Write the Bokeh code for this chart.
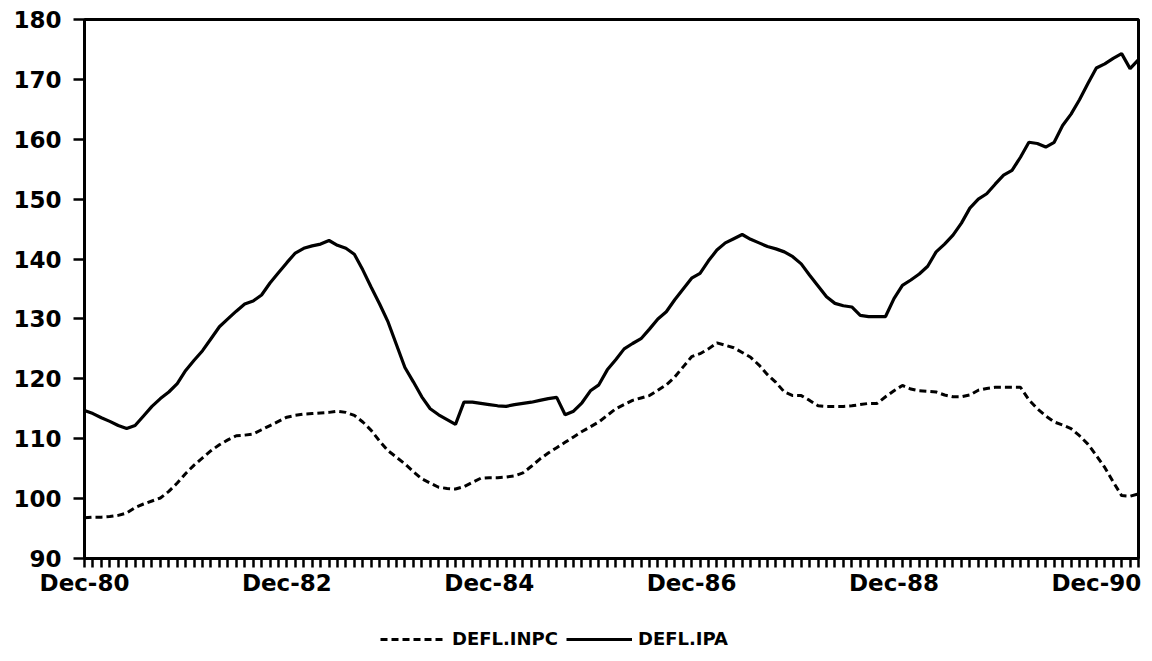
from bokeh.plotting import figure
from bokeh.layouts import column
from bokeh.models import FixedTicker, Legend, LegendItem
from bokeh.embed import file_html
from bokeh.resources import INLINE

# Monthly values, Dec-80 onwards
ipa = [
    114.7, 114.2, 113.5, 112.9, 112.2, 111.7, 112.2, 113.8, 115.4, 116.7,
    117.8, 119.2, 121.4, 123.1, 124.7, 126.7, 128.7, 130.0, 131.3, 132.5,
    133.0, 134.0, 136.0, 137.7, 139.4, 141.0, 141.8, 142.2, 142.5, 143.1,
    142.3, 141.8, 140.8, 138.2, 135.3, 132.5, 129.5, 125.7, 121.9, 119.5,
    117.0, 115.0, 114.0, 113.2, 112.4, 116.1, 116.1, 115.9, 115.7, 115.5,
    115.4, 115.7, 115.9, 116.1, 116.4, 116.7, 116.9, 114.0, 114.6, 116.0,
    118.0, 119.0, 121.5, 123.2, 125.0, 125.9, 126.7, 128.3, 130.0, 131.2,
    133.2, 135.0, 136.8, 137.6, 139.7, 141.5, 142.7, 143.4, 144.1, 143.3,
    142.7, 142.1, 141.7, 141.2, 140.4, 139.2, 137.3, 135.5, 133.7, 132.6,
    132.2, 132.0, 130.6, 130.4, 130.4, 130.4, 133.4, 135.6, 136.5, 137.5,
    138.8, 141.2, 142.5, 144.0, 146.0, 148.5, 150.0, 150.9, 152.5, 154.0,
    154.8, 157.0, 159.5, 159.3, 158.7, 159.5, 162.3, 164.2, 166.6, 169.3,
    171.9, 172.6, 173.5, 174.3, 171.8, 173.3,
]

inpc = [
    96.8, 96.9, 96.9, 97.0, 97.2, 97.6, 98.5, 99.1, 99.6, 100.1,
    101.2, 102.6, 104.2, 105.6, 106.8, 108.0, 109.0, 109.8, 110.5, 110.6,
    110.8, 111.5, 112.2, 112.9, 113.6, 113.9, 114.1, 114.2, 114.3, 114.4,
    114.6, 114.4, 113.9, 112.8, 111.4, 109.6, 108.0, 106.9, 105.8, 104.5,
    103.3, 102.6, 101.9, 101.7, 101.6, 102.0, 102.7, 103.4, 103.5, 103.5,
    103.6, 103.8, 104.3, 105.4, 106.6, 107.6, 108.5, 109.4, 110.3, 111.2,
    112.0, 112.8, 113.9, 115.0, 115.7, 116.4, 116.8, 117.2, 118.1, 119.0,
    120.3, 122.0, 123.7, 124.2, 125.0, 126.0, 125.6, 125.2, 124.4, 123.6,
    122.3, 120.7, 119.4, 117.8, 117.2, 117.2, 116.4, 115.5, 115.4, 115.4,
    115.4, 115.5, 115.7, 115.9, 115.9, 117.0, 118.0, 118.9, 118.3, 118.0,
    117.9, 117.8, 117.3, 117.0, 117.0, 117.3, 118.1, 118.4, 118.6, 118.6,
    118.6, 118.6, 116.5, 115.0, 113.8, 112.8, 112.3, 111.7, 110.5, 109.1,
    107.2, 105.2, 102.8, 100.5, 100.4, 100.8,
]

series_names = ["DEFL.INPC", "DEFL.IPA"]
tick_labels = ["Dec-80", "Dec-82", "Dec-84", "Dec-86", "Dec-88", "Dec-90"]
tick_index = [0, 24, 48, 72, 96, 120]
y_ticks = [90, 100, 110, 120, 130, 140, 150, 160, 170, 180]

x = list(range(len(ipa)))
FONT = "DejaVu Sans"
DASH = "7 4"

p = figure(width=1148, height=605, x_range=(0, len(ipa) - 1), y_range=(90, 180),
           output_backend="svg", toolbar_location=None,
           min_border_left=84, min_border_right=10, min_border_top=19,
           min_border_bottom=47)
p.grid.visible = False
p.background_fill_color = "white"
p.border_fill_color = "white"
p.outline_line_color = "black"
p.outline_line_width = 3
p.outline_line_alpha = 1

r1 = p.line(x, inpc, line_color="black", line_width=3, line_dash=DASH)
r2 = p.line(x, ipa, line_color="black", line_width=3.2)

xa = p.xaxis[0]
xa.ticker = FixedTicker(ticks=x, minor_ticks=[])
overrides = {i: "" for i in x}
for i, lab in zip(tick_index, tick_labels):
    overrides[i] = lab
xa.major_label_overrides = overrides
xa.major_tick_out = 9
xa.major_tick_in = 0
xa.major_tick_line_width = 2.5
xa.major_tick_line_color = "black"
xa.axis_line_width = 3
xa.axis_line_color = "black"
xa.major_label_standoff = 2
xa.major_label_text_font = FONT
xa.major_label_text_font_style = "bold"
xa.major_label_text_font_size = "23px"
xa.major_label_text_color = "black"

ya = p.yaxis[0]
ya.ticker = FixedTicker(ticks=y_ticks, minor_ticks=[])
ya.major_tick_out = 11
ya.major_tick_in = 0
ya.major_tick_line_width = 2.5
ya.major_tick_line_color = "black"
ya.axis_line_width = 3
ya.axis_line_color = "black"
ya.major_label_standoff = 12
ya.major_label_text_font = FONT
ya.major_label_text_font_style = "bold"
ya.major_label_text_font_size = "23px"
ya.major_label_text_color = "black"

# Legend strip below the chart (its sample lines use the same series,
# drawn outside this strip's visible range so only the legend shows)
lf = figure(width=1148, height=50, x_range=(-1000, -999), y_range=(0, 1),
            output_backend="svg", toolbar_location=None,
            x_axis_location=None, y_axis_location=None,
            min_border=0, outline_line_color=None)
lf.grid.visible = False
lr1 = lf.line(x, inpc, line_color="black", line_width=3, line_dash=DASH)
lr2 = lf.line(x, ipa, line_color="black", line_width=3.2)
legend = Legend(items=[LegendItem(label=series_names[0], renderers=[lr1]),
                       LegendItem(label=series_names[1], renderers=[lr2])],
                orientation="horizontal", location=(296, 6),
                border_line_color=None, background_fill_alpha=0,
                label_text_font=FONT, label_text_font_style="bold",
                label_text_font_size="18px", label_text_color="black",
                glyph_width=66, glyph_height=20, label_standoff=6,
                spacing=8, padding=0, margin=0)
lf.add_layout(legend)

layout = column(p, lf, spacing=0)
open("out.html", "w").write(file_html(layout, INLINE))
